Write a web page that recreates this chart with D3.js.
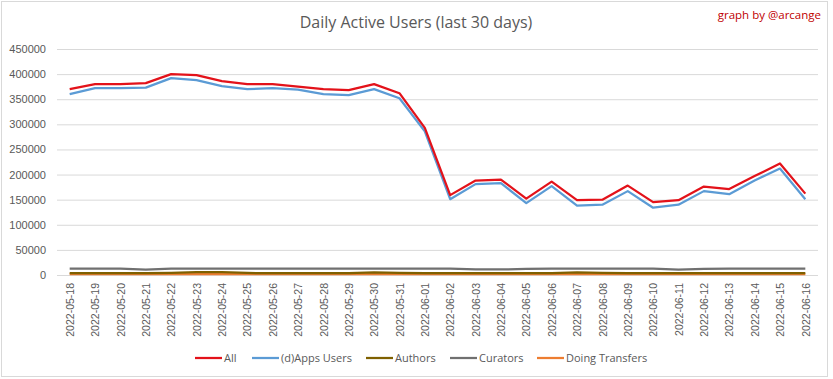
<!DOCTYPE html>
<html>
<head>
<meta charset="utf-8">
<script src="https://cdn.jsdelivr.net/npm/d3@7"></script>
<style>
html,body{margin:0;padding:0;background:#fff;}
svg{display:block;font-family:"Open Sans",sans-serif;}
</style>
</head>
<body>
<svg id="chart" width="833" height="379"></svg>
<script>
const dates = ["2022-05-18","2022-05-19","2022-05-20","2022-05-21","2022-05-22","2022-05-23","2022-05-24","2022-05-25","2022-05-26","2022-05-27","2022-05-28","2022-05-29","2022-05-30","2022-05-31","2022-06-01","2022-06-02","2022-06-03","2022-06-04","2022-06-05","2022-06-06","2022-06-07","2022-06-08","2022-06-09","2022-06-10","2022-06-11","2022-06-12","2022-06-13","2022-06-14","2022-06-15","2022-06-16"];
const allUsers = [370000,380000,380000,382000,400000,398000,386000,380000,380000,375000,370000,368000,380000,362000,293000,159000,188000,190000,152000,186000,149000,150000,178000,145000,149000,176000,171000,197000,222000,162000];
const appsUsers = [360000,372000,372000,373000,392000,388000,376000,370000,372000,369000,360000,358000,370000,352000,286000,151000,181000,183000,143000,177000,138000,140000,167000,134000,140000,167000,161000,188000,212000,151000];
const authors = [3500,3500,3500,3500,4000,5500,5500,4000,3500,3500,3500,3500,5000,4000,3500,3500,3500,3500,3500,3500,5000,4000,3500,3500,3500,3500,3500,3500,3500,3500];
const curators = [12500,12500,12500,10500,12500,12500,12500,12500,12500,12500,12500,12500,12500,12500,12500,12500,11000,11000,12000,12500,12500,12500,12500,12500,10500,12000,12500,12500,12500,12500];
const transfers = [1800,1800,1800,1800,1800,1800,1800,1800,1800,1800,1800,1800,1800,1800,1800,1800,1800,1800,1800,1800,1800,1800,1800,1800,1800,1800,1800,1800,1800,1800];
const yTicks = [0,50000,100000,150000,200000,250000,300000,350000,400000,450000];

const seriesNames = ["All","(d)Apps Users","Authors","Curators","Doing Transfers"];
const seriesColors = ["#e3121a","#5b9bd5","#7f6000","#707070","#ed7d31"];
const seriesData = [allUsers, appsUsers, authors, curators, transfers];

const svg = d3.select("#chart");
const W = 833, H = 379;
const m = {left:57, right:15, top:49, bottom:104};

// outer border
svg.append("rect").attr("x",1.5).attr("y",1.5).attr("width",826).attr("height",375)
  .attr("fill","#fff").attr("stroke","#d9d9d9").attr("stroke-width",1);

const x = d3.scalePoint().domain(dates).range([m.left, W - m.right]).padding(0.5);
const y = d3.scaleLinear().domain([0,450000]).range([H - m.bottom, m.top]);

// grid lines
const yAxis = d3.axisLeft(y).tickValues(yTicks).tickSize(-(W - m.right - m.left)).tickFormat(d3.format("d")).tickPadding(11);
const gy = svg.append("g").attr("transform",`translate(${m.left},0)`).call(yAxis);
gy.select(".domain").remove();
gy.selectAll(".tick line").attr("stroke","#d9d9d9").attr("stroke-width",1);
gy.selectAll(".tick text").attr("fill","#595959").style("font-size","11px");

// x axis
const xAxis = d3.axisBottom(x).tickSize(0).tickPadding(0);
const gx = svg.append("g").attr("transform",`translate(0,${H - m.bottom})`).call(xAxis);
gx.select(".domain").remove();
gx.selectAll(".tick text")
  .attr("fill","#595959").style("font-size","10.5px")
  .attr("text-anchor","end")
  .attr("transform","rotate(-90)")
  .attr("x",-8).attr("y",0).attr("dy","0.35em");

// lines (draw bottom series first, red last)
const line = d3.line().x((d,i)=>x(dates[i])).y(d=>y(d));
const order = [4,2,3,1,0];
order.forEach(k=>{
  svg.append("path").datum(seriesData[k])
    .attr("fill","none").attr("stroke",seriesColors[k])
    .attr("stroke-width", k<2 ? 2.25 : 2.25)
    .attr("stroke-linejoin","round")
    .attr("d",line);
});

// title
svg.append("text").attr("x",416).attr("y",28).attr("text-anchor","middle")
  .attr("fill","#595959").style("font-size","16px").text("Daily Active Users (last 30 days)");
svg.append("text").attr("x",821).attr("y",19).attr("text-anchor","end")
  .attr("fill","#c00000").style("font-size","11.5px").text("graph by @arcange");

// legend
const legendX = [195,252,366,450,537];
const lg = svg.append("g");
seriesNames.forEach((n,i)=>{
  const g = lg.append("g").attr("transform",`translate(${legendX[i]},358)`);
  g.append("line").attr("x1",0).attr("x2",27).attr("y1",0).attr("y2",0)
    .attr("stroke",seriesColors[i]).attr("stroke-width",2.25);
  g.append("text").attr("x",29).attr("y",0).attr("dy","0.35em")
    .attr("fill","#595959").style("font-size","11px").text(n);
});
</script>
</body>
</html>
